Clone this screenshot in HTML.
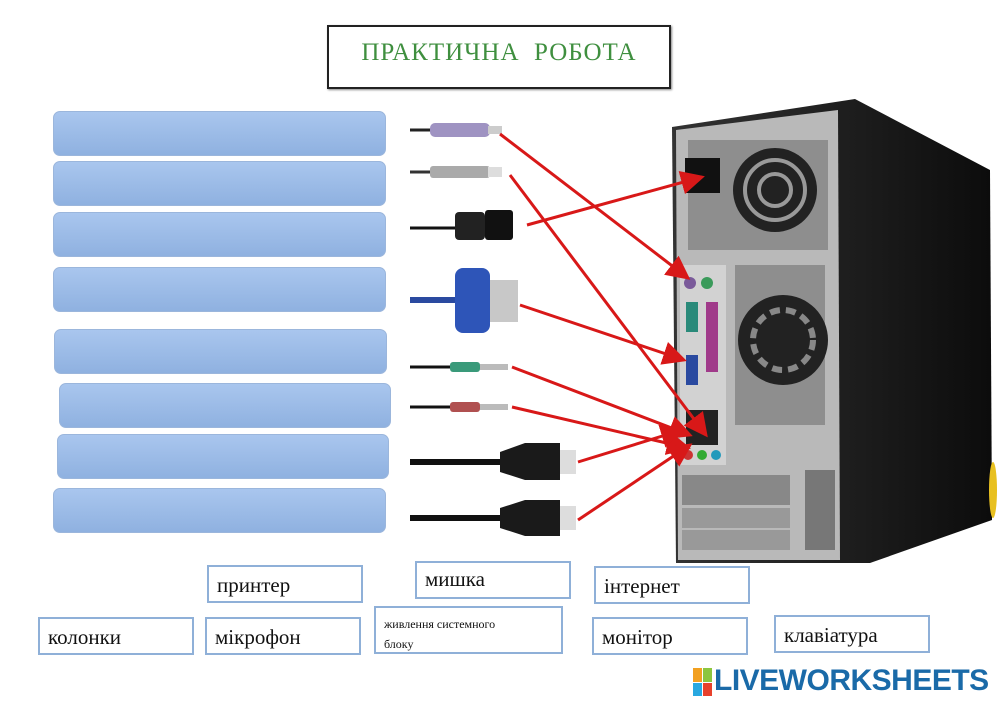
<!DOCTYPE html>
<html><head><meta charset="utf-8"><style>
body{margin:0;background:#fff;width:1000px;height:707px;position:relative;overflow:hidden;font-family:"Liberation Serif",serif}
.b{position:absolute;border-radius:7px;background:linear-gradient(#a9c6ee,#8fb1e0);border:1px solid #9bb6dc}
.l{position:absolute;border:2px solid #8fb0d8;background:#fff;font-size:21px;box-sizing:border-box;padding:6px 8px;color:#111}
</style></head><body>
<div style="position:absolute;left:327px;top:25px;width:340px;height:60px;border:2px solid #222;box-shadow:1px 1px 2px #888;font-size:25px;color:#3f8f3f;text-align:center;line-height:52px;letter-spacing:1px">ПРАКТИЧНА&nbsp; РОБОТА</div>
<div class="b" style="left:53px;top:111px;width:331px;height:43px"></div>
<div class="b" style="left:53px;top:161px;width:331px;height:43px"></div>
<div class="b" style="left:53px;top:212px;width:331px;height:43px"></div>
<div class="b" style="left:53px;top:267px;width:331px;height:43px"></div>
<div class="b" style="left:54px;top:329px;width:331px;height:43px"></div>
<div class="b" style="left:59px;top:383px;width:330px;height:43px"></div>
<div class="b" style="left:57px;top:434px;width:330px;height:43px"></div>
<div class="b" style="left:53px;top:488px;width:331px;height:43px"></div>
<svg style="position:absolute;left:0;top:0" width="1000" height="707">
<defs><marker id="a" markerWidth="8" markerHeight="8" refX="7" refY="4" orient="auto"><path d="M0,0L8,4L0,8z" fill="#d81818"/></marker>
<linearGradient id="g" x1="0" x2="1"><stop offset="0" stop-color="#333"/><stop offset="1" stop-color="#0c0c0c"/></linearGradient></defs>
<polygon points="672,127 855,99 990,170 992,520 870,563 676,563" fill="url(#g)"/>
<polygon points="676,130 838,110 840,560 678,560" fill="#b9b9b9"/>
<rect x="688" y="140" width="140" height="110" fill="#8e8e8e"/>
<circle cx="775" cy="190" r="42" fill="#222"/><circle cx="775" cy="190" r="30" fill="none" stroke="#999" stroke-width="4"/><circle cx="775" cy="190" r="16" fill="none" stroke="#999" stroke-width="4"/>
<rect x="685" y="158" width="35" height="35" fill="#111"/>
<rect x="735" y="265" width="90" height="160" fill="#8e8e8e"/>
<circle cx="783" cy="340" r="45" fill="#222"/><circle cx="783" cy="340" r="30" fill="none" stroke="#888" stroke-width="6" stroke-dasharray="10 6"/>
<rect x="680" y="265" width="46" height="200" fill="#d2d2d2"/>
<circle cx="690" cy="283" r="6" fill="#7a5a9a"/><circle cx="707" cy="283" r="6" fill="#3a9a5a"/>
<rect x="686" y="302" width="12" height="30" fill="#2a8a7a"/><rect x="706" y="302" width="12" height="70" fill="#a03a8a"/>
<rect x="686" y="355" width="12" height="30" fill="#2a4aa0"/>
<rect x="686" y="410" width="32" height="35" fill="#222"/>
<circle cx="688" cy="455" r="5" fill="#c33"/><circle cx="702" cy="455" r="5" fill="#3a3"/><circle cx="716" cy="455" r="5" fill="#29b"/>
<rect x="682" y="475" width="108" height="30" fill="#888"/><rect x="682" y="508" width="108" height="20" fill="#999"/><rect x="682" y="530" width="108" height="20" fill="#999"/>
<rect x="805" y="470" width="30" height="80" fill="#777"/>
<ellipse cx="993" cy="490" rx="4" ry="28" fill="#e8c020"/>
<!-- cables -->
<line x1="410" y1="130" x2="430" y2="130" stroke="#222" stroke-width="3"/><rect x="430" y="123" width="60" height="14" rx="5" fill="#9f93c2"/><rect x="488" y="126" width="14" height="8" fill="#ccc"/>
<line x1="410" y1="172" x2="430" y2="172" stroke="#333" stroke-width="3"/><rect x="430" y="166" width="60" height="12" rx="3" fill="#aaa"/><rect x="488" y="167" width="14" height="10" fill="#ddd"/>
<line x1="410" y1="228" x2="455" y2="228" stroke="#111" stroke-width="3"/><rect x="455" y="212" width="30" height="28" rx="4" fill="#222"/><rect x="485" y="210" width="28" height="30" rx="3" fill="#111"/>
<line x1="410" y1="300" x2="455" y2="300" stroke="#2a4aa0" stroke-width="6"/><rect x="455" y="268" width="35" height="65" rx="8" fill="#2e55b8"/><rect x="490" y="280" width="28" height="42" fill="#c8c8c8"/>
<line x1="410" y1="367" x2="450" y2="367" stroke="#111" stroke-width="3"/><rect x="450" y="362" width="30" height="10" rx="3" fill="#3a9a7a"/><rect x="480" y="364" width="28" height="6" fill="#bbb"/>
<line x1="410" y1="407" x2="450" y2="407" stroke="#111" stroke-width="3"/><rect x="450" y="402" width="30" height="10" rx="3" fill="#b05050"/><rect x="480" y="404" width="28" height="6" fill="#bbb"/>
<line x1="410" y1="462" x2="500" y2="462" stroke="#111" stroke-width="6"/><polygon points="500,452 525,443 560,443 560,480 525,480 500,472" fill="#1a1a1a"/><rect x="560" y="450" width="16" height="24" fill="#ddd"/>
<line x1="410" y1="518" x2="500" y2="518" stroke="#111" stroke-width="6"/><polygon points="500,508 525,500 560,500 560,536 525,536 500,528" fill="#1a1a1a"/><rect x="560" y="506" width="16" height="24" fill="#ddd"/>
<g stroke="#d81818" stroke-width="3" marker-end="url(#a)">
<line x1="500" y1="134" x2="688" y2="278"/>
<line x1="510" y1="175" x2="706" y2="435"/>
<line x1="527" y1="225" x2="702" y2="177"/>
<line x1="520" y1="305" x2="684" y2="360"/>
<line x1="512" y1="367" x2="690" y2="435"/>
<line x1="512" y1="407" x2="688" y2="448"/>
<line x1="578" y1="462" x2="682" y2="430"/>
<line x1="578" y1="520" x2="690" y2="445"/>
</g>
</svg>
<div class="l" style="left:207px;top:565px;width:156px;height:38px">принтер</div>
<div class="l" style="left:415px;top:561px;width:156px;height:38px;padding-top:4px">мишка</div>
<div class="l" style="left:594px;top:566px;width:156px;height:38px">інтернет</div>
<div class="l" style="left:38px;top:617px;width:156px;height:38px">колонки</div>
<div class="l" style="left:205px;top:617px;width:156px;height:38px">мікрофон</div>
<div class="l" style="left:374px;top:606px;width:189px;height:48px;font-size:12px;padding:6px 8px;line-height:20px">живлення системного<br>блоку</div>
<div class="l" style="left:592px;top:617px;width:156px;height:38px">монітор</div>
<div class="l" style="left:774px;top:615px;width:156px;height:38px">клавіатура</div>
<div style="position:absolute;left:693px;top:668px;width:18px;height:28px;display:grid;grid-template-columns:9px 9px;gap:1px">
<div style="background:#f2a020"></div><div style="background:#8cc63f"></div><div style="background:#29a8e0"></div><div style="background:#e8412c"></div></div>
<div style="position:absolute;left:714px;top:664px;font-family:'Liberation Sans',sans-serif;font-weight:bold;font-size:30px;color:#1a6aa8;letter-spacing:-0.5px">LIVEWORKSHEETS</div>
</body></html>
